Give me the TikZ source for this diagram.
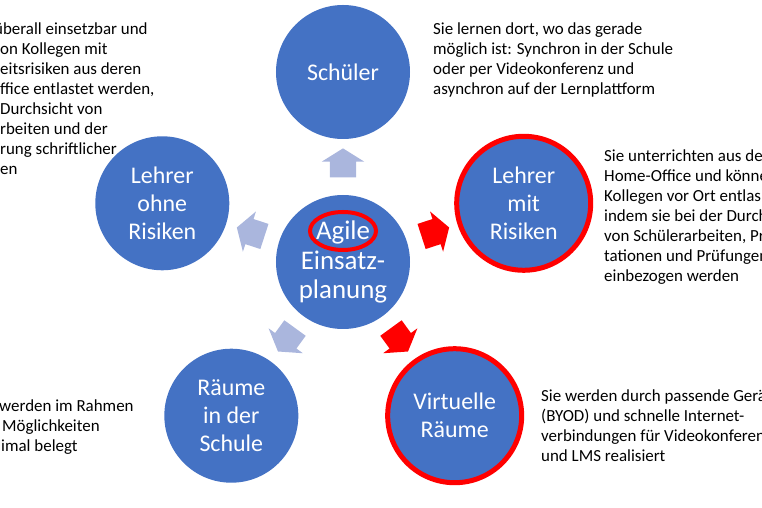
\documentclass[tikz,border=0pt]{standalone}
\usepackage{fontspec}
\setmainfont{Carlito}
\usetikzlibrary{shapes.arrows,shapes.geometric}
\definecolor{circblue}{RGB}{68,114,196}
\definecolor{paleblue}{RGB}{170,182,221}
\begin{document}
\begin{tikzpicture}[x=1bp,y=1bp,
  topic/.style={circle, fill=circblue, minimum size=134bp, inner sep=0pt, text=white, align=center, font=\fontsize{24}{28}\selectfont},
  risk/.style={topic, draw=red, line width=5bp},
  note/.style={anchor=north west, inner sep=0pt, align=left, font=\fontsize{17}{20}\selectfont},
  pointer/.style={single arrow, fill=paleblue, minimum height=29bp, single arrow head extend=8bp, single arrow tip angle=116, inner sep=0pt},
  hotpointer/.style={pointer, fill=red}]
  \useasboundingbox (-343,-246) rectangle (419,262);

  % centre
  \node[topic, font=\fontsize{27}{30}\selectfont] (plan) {Agile\\Einsatz-\\planung};
  \node[ellipse, draw=red, line width=4bp, minimum width=66bp, minimum height=38bp, inner sep=0pt] (mark) at ([yshift=31bp]plan.center) {};

  % ring of topics
  \node[topic] (schueler) at (90:190) {Schüler};
  \node[risk] (lmit) at (18:190) {Lehrer\\mit\\Risiken};
  \node[risk] (virtuell) at (-54:190) {Virtuelle\\Räume};
  \node[topic] (raeume) at (-126:190) {Räume\\in der\\Schule};
  \node[topic] (lohne) at (162:190) {Lehrer\\ohne\\Risiken};

  % arrows
  \node[pointer, rotate=90] (toschueler) at (90:95) {\rule{0pt}{26bp}};
  \node[hotpointer, rotate=18] (tolmit) at (18:93) {\rule{0pt}{26bp}};
  \node[hotpointer, rotate=-54] (tovirtuell) at (-54:92) {\rule{0pt}{26bp}};
  \node[pointer, rotate=-126] (toraeume) at (-126:92) {\rule{0pt}{26bp}};
  \node[pointer, rotate=162] (tolohne) at (162:93) {\rule{0pt}{26bp}};

  % notes
  \node[note] (nschueler) at (90,239) {Sie lernen dort, wo das gerade\\möglich ist: Synchron in der Schule\\oder per Videokonferenz und\\asynchron auf der Lernplattform};
  \node[note] (nlohne) at (-343,239) {\hspace*{-6bp}überall einsetzbar und\\on Kollegen mit\\eitsrisiken aus deren\\ffice entlastet werden,\\Durchsicht von\\rbeiten und der\\rung schriftlicher\\en};
  \node[note] (nlmit) at (261,112) {Sie unterrichten aus de\\Home-Office und könne\\Kollegen vor Ort entlas\\indem sie bei der Durch\\von Schülerarbeiten, Pr\\tationen und Prüfungen\\einbezogen werden};
  \node[note] (nraeume) at (-344,-138) {werden im Rahmen\\\hspace*{3bp}Möglichkeiten\\\hspace*{2bp}imal belegt};
  \node[note] (nvirtuell) at (198,-128) {Sie werden durch passende Gerä\\(BYOD) und schnelle Internet-\\verbindungen für Videokonferen\\und LMS realisiert};
\end{tikzpicture}
\end{document}
